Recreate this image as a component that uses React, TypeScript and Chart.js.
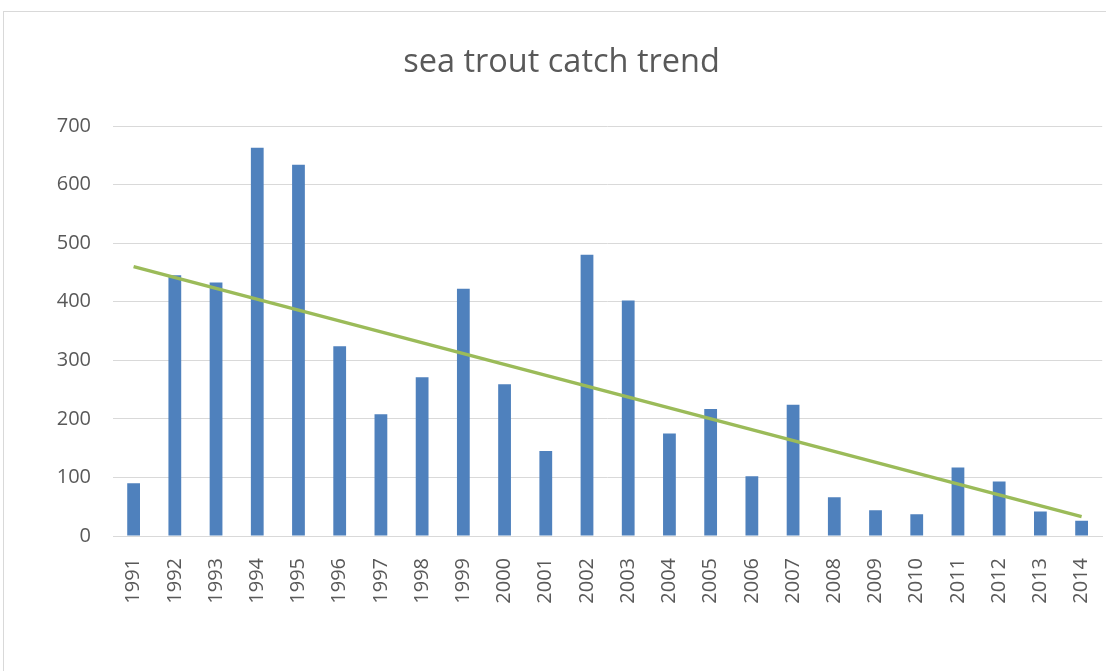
import React, { useEffect, useRef } from "react";
import { Chart, registerables } from "chart.js";

Chart.register(...registerables);

const years = [
  "1991", "1992", "1993", "1994", "1995", "1996", "1997", "1998", "1999", "2000",
  "2001", "2002", "2003", "2004", "2005", "2006", "2007", "2008", "2009", "2010",
  "2011", "2012", "2013", "2014",
];
const catches = [
  90, 445, 433, 663, 634, 324, 208, 271, 422, 259,
  145, 480, 402, 175, 217, 102, 224, 66, 44, 37,
  117, 93, 42, 26,
];
// linear trend line: start (1991) and end (2014) values
const trendStart = 460;
const trendEnd = 33;
const trend = years.map((_, i) =>
  i === 0 ? trendStart : i === years.length - 1 ? trendEnd : null
);

const titleText = "sea trout catch trend";

export default function App() {
  const ref = useRef<HTMLCanvasElement | null>(null);

  useEffect(() => {
    document.body.style.margin = "0";
    document.body.style.overflow = "hidden";
    const canvas = ref.current;
    if (!canvas) return;
    const chart = new Chart(canvas, {
      type: "bar",
      data: {
        labels: years,
        datasets: [
          {
            type: "line",
            label: "trend",
            data: trend,
            borderColor: "#9BBB59",
            borderWidth: 3.5,
            pointRadius: 0,
            spanGaps: true,
            fill: false,
            order: 0,
          } as any,
          {
            type: "bar",
            label: "catch",
            data: catches,
            backgroundColor: "#4F81BD",
            barPercentage: 0.31,
            categoryPercentage: 1,
            order: 1,
          },
        ],
      },
      options: {
        responsive: false,
        animation: false,
        layout: { padding: { left: 11, right: 19, top: 0, bottom: 0 } },
        plugins: {
          legend: { display: false },
          tooltip: { enabled: false },
          title: {
            display: true,
            text: titleText,
            color: "#595959",
            font: { family: "'Open Sans'", size: 32.5, weight: "normal" },
            padding: { top: 32, bottom: 44 },
          },
        },
        scales: {
          x: {
            grid: { display: false, drawTicks: false },
            border: { display: true, color: "#D9D9D9", width: 1 },
            ticks: {
              color: "#595959",
              font: { family: "'Open Sans'", size: 20 },
              minRotation: 90,
              maxRotation: 90,
              autoSkip: false,
              padding: 22,
            },
            afterFit: (scale: any) => {
              scale.height = 135;
            },
          },
          y: {
            min: 0,
            max: 700,
            grid: { color: "#D9D9D9", lineWidth: 1, drawTicks: false },
            border: { display: false },
            ticks: {
              stepSize: 100,
              color: "#595959",
              font: { family: "'Open Sans'", size: 20 },
              padding: 22,
            },
            afterFit: (scale: any) => {
              scale.width = 99;
            },
          },
        },
      },
    });
    return () => chart.destroy();
  }, []);

  return (
    <div style={{ position: "relative", width: 1106, height: 671, overflow: "hidden", background: "#fff" }}>
      <div
        style={{
          position: "absolute",
          left: 3,
          top: 11,
          width: 1130,
          height: 700,
          border: "1px solid #D9D9D9",
          boxSizing: "border-box",
          pointerEvents: "none",
        }}
      />
      <canvas
        ref={ref}
        width={1125}
        height={660}
        style={{ position: "absolute", left: 3, top: 11, width: 1125, height: 660 }}
      />
    </div>
  );
}
